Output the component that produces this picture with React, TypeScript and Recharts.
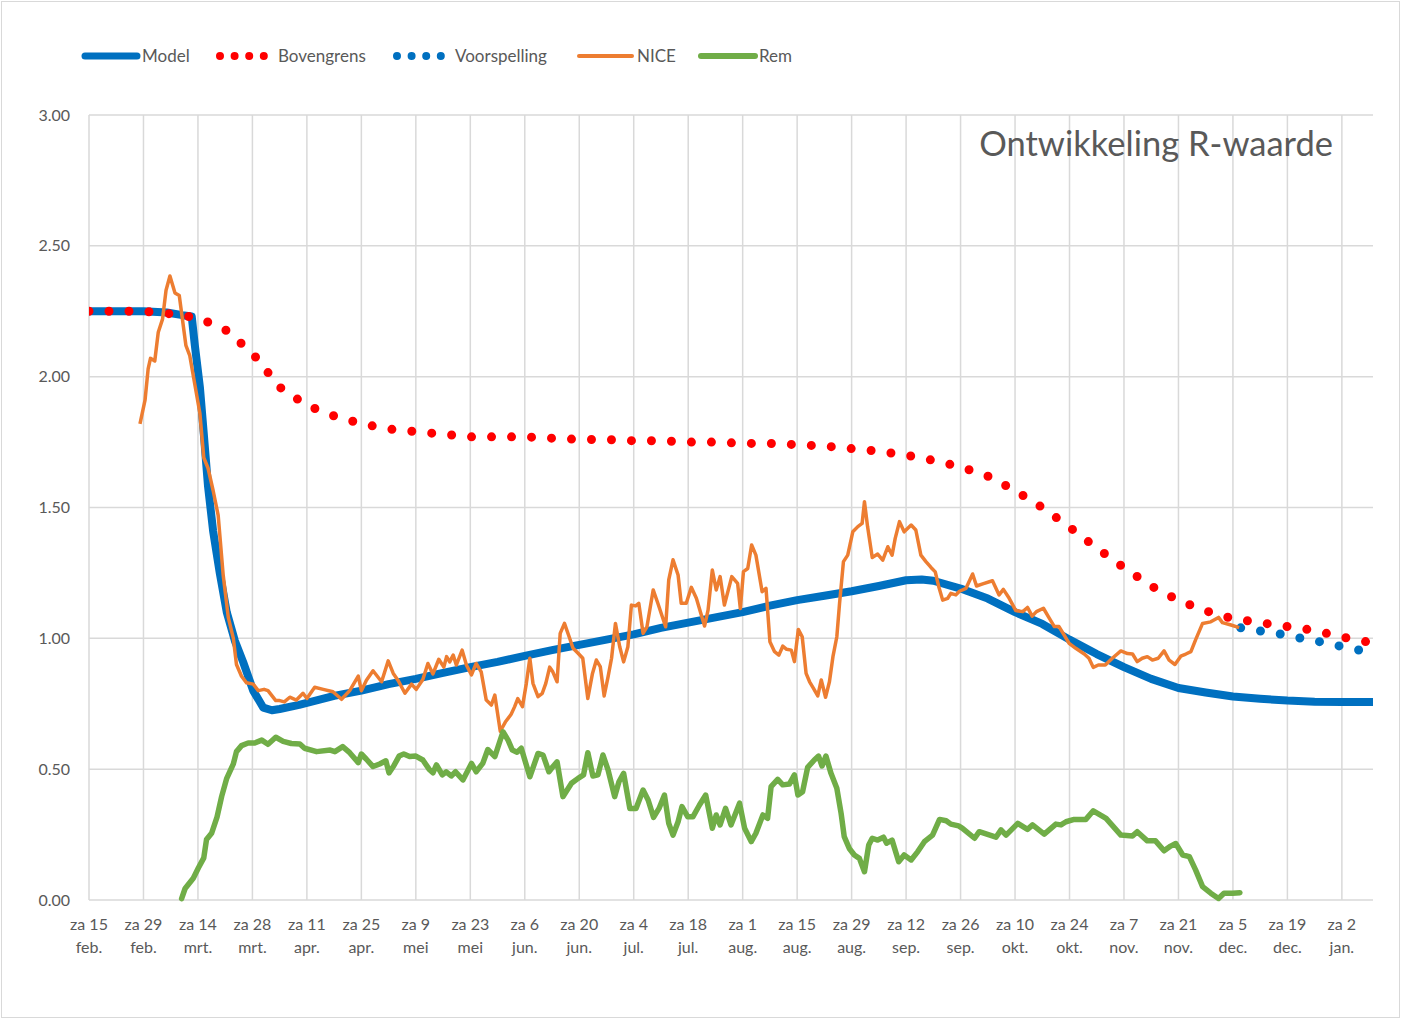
import { LineChart, Line, XAxis, YAxis, CartesianGrid } from 'recharts';

// x = days since za 15 feb. 2020
const tickDays = [0, 14, 28, 42, 56, 70, 84, 98, 112, 126, 140, 154, 168, 182, 196, 210, 224, 238, 252, 266, 280, 294, 308, 322];
const tickDayLabels = ['za 15', 'za 29', 'za 14', 'za 28', 'za 11', 'za 25', 'za 9', 'za 23', 'za 6', 'za 20', 'za 4', 'za 18', 'za 1', 'za 15', 'za 29', 'za 12', 'za 26', 'za 10', 'za 24', 'za 7', 'za 21', 'za 5', 'za 19', 'za 2'];
const tickMonthLabels = ['feb.', 'feb.', 'mrt.', 'mrt.', 'apr.', 'apr.', 'mei', 'mei', 'jun.', 'jun.', 'jul.', 'jul.', 'aug.', 'aug.', 'aug.', 'sep.', 'sep.', 'okt.', 'okt.', 'nov.', 'nov.', 'dec.', 'dec.', 'jan.'];
const yTicks = [0, 0.5, 1, 1.5, 2, 2.5, 3];

const modelDays = [0, 7, 14, 20, 24, 26.4, 27.2, 28.5, 29.4, 30.6, 31.9, 33.6, 35.4, 37.5, 39.6, 42.2, 44.8, 47, 49, 54, 63, 70, 77, 84, 91, 98, 105, 112, 119, 126, 133, 140, 147, 154, 161, 168, 175, 182, 189, 196, 203, 210, 214, 217, 224, 231, 238, 245, 252, 259, 266, 273, 280, 287, 294, 301, 308, 315, 322, 330];
const modelValues = [2.25, 2.25, 2.25, 2.245, 2.235, 2.23, 2.12, 1.96, 1.8, 1.58, 1.41, 1.25, 1.1, 0.99, 0.91, 0.8, 0.735, 0.725, 0.73, 0.746, 0.78, 0.8, 0.825, 0.845, 0.868, 0.89, 0.91, 0.933, 0.955, 0.975, 0.995, 1.015, 1.04, 1.06, 1.08, 1.1, 1.125, 1.146, 1.163, 1.18, 1.2, 1.222, 1.225, 1.22, 1.19, 1.152, 1.1, 1.055, 0.995, 0.94, 0.89, 0.845, 0.81, 0.793, 0.778, 0.769, 0.762, 0.758, 0.757, 0.757];

const boundDays = [0, 7, 14, 21, 28, 35, 42, 49, 56, 63, 70, 77, 84, 91, 98, 105, 112, 119, 126, 133, 140, 147, 154, 161, 168, 175, 182, 189, 196, 203, 210, 217, 224, 231, 238, 245, 252, 259, 266, 273, 280, 287, 294, 301, 308, 315, 322, 329];
const boundValues = [2.25, 2.25, 2.25, 2.24, 2.225, 2.18, 2.09, 1.96, 1.89, 1.85, 1.82, 1.8, 1.79, 1.78, 1.77, 1.77, 1.77, 1.765, 1.76, 1.76, 1.755, 1.755, 1.75, 1.75, 1.745, 1.745, 1.74, 1.735, 1.725, 1.715, 1.7, 1.68, 1.655, 1.62, 1.565, 1.5, 1.425, 1.345, 1.27, 1.2, 1.145, 1.105, 1.075, 1.06, 1.045, 1.03, 1.005, 0.985];

const forecastDays = [296, 301, 306, 311, 316, 321, 326, 329];
const forecastValues = [1.04, 1.028, 1.017, 1.002, 0.988, 0.972, 0.956, 0.95];

const niceDays = [13.1, 14.4, 15.2, 15.8, 16.9, 17.8, 18.9, 19.8, 20.8, 22.1, 23.2, 24.9, 25.9, 27.2, 28.5, 29.5, 30.6, 31.9, 33.2, 34.5, 35.8, 37.1, 37.9, 39.2, 40.5, 42.2, 43.5, 45, 46, 48, 49, 50.2, 51.6, 53.3, 55, 56, 58, 60.2, 62.7, 64.9, 67, 69.2, 70, 71.3, 73, 75.2, 76.9, 78.2, 79.4, 81.2, 82.9, 84.1, 85.8, 87.1, 88.4, 89.9, 91.2, 91.9, 92.7, 93.6, 94.4, 95.9, 97, 98.3, 99.5, 100.8, 102.1, 103.4, 104.3, 105.7, 107, 108.5, 109.4, 110.2, 111.4, 112.4, 113.3, 114.1, 115.4, 116.5, 117.4, 118.4, 119.2, 120.3, 121.1, 122.2, 123.4, 124.4, 125.7, 126.9, 128.2, 129.4, 130.4, 131.4, 132.4, 133.4, 134.3, 135.3, 136.4, 137.4, 138.5, 139.4, 140.5, 141.3, 142.4, 143.4, 145, 146.2, 148.2, 149, 150.1, 151.4, 152.2, 153.5, 154.8, 156.1, 158.2, 159.1, 160.2, 161.2, 162.2, 163.3, 165.2, 166.7, 167.4, 168.2, 169.3, 170.3, 171.4, 173, 174, 175, 176.2, 177.3, 178.3, 179.3, 180.5, 181.3, 182.3, 183.3, 184.3, 185.2, 186.2, 187.3, 188.2, 189.3, 190.3, 191.2, 192.2, 192.9, 193.9, 195, 196.3, 197.6, 198.7, 199.3, 200.1, 201.3, 202.7, 204, 205.3, 206.4, 207.2, 208.3, 209.5, 211.3, 212.5, 213.8, 215.1, 216.4, 217.5, 218.4, 219.4, 220.7, 221.5, 222.8, 223.7, 225.4, 227.1, 228.1, 229.7, 232.2, 233.9, 235, 236.5, 238.2, 240, 241.2, 242.4, 243.5, 245.3, 246.6, 248.1, 249.3, 250.6, 251.9, 253.6, 255.8, 257, 258.1, 259.4, 261.2, 263, 265.2, 266.9, 268.2, 269.4, 270.7, 272, 273.3, 274.8, 276.3, 277.6, 279.1, 280.6, 281.9, 283.2, 284.4, 286.2, 288.3, 290.3, 291.3, 293.5, 295.6];
const niceValues = [1.82, 1.91, 2.03, 2.07, 2.06, 2.17, 2.22, 2.33, 2.385, 2.32, 2.31, 2.12, 2.08, 1.97, 1.86, 1.69, 1.65, 1.565, 1.47, 1.24, 1.08, 1.0, 0.9, 0.855, 0.83, 0.825, 0.8, 0.805, 0.8, 0.762, 0.762, 0.757, 0.775, 0.764, 0.79, 0.77, 0.813, 0.805, 0.796, 0.767, 0.8, 0.856, 0.8, 0.84, 0.876, 0.834, 0.914, 0.866, 0.84, 0.79, 0.825, 0.805, 0.843, 0.904, 0.864, 0.92, 0.89, 0.93, 0.91, 0.936, 0.898, 0.955, 0.898, 0.86, 0.904, 0.872, 0.764, 0.745, 0.783, 0.645, 0.68, 0.71, 0.739, 0.77, 0.739, 0.828, 0.924, 0.828, 0.777, 0.79, 0.828, 0.89, 0.872, 0.834, 1.019, 1.057, 1.006, 0.962, 0.943, 0.924, 0.77, 0.866, 0.917, 0.892, 0.78, 0.853, 0.924, 1.057, 0.968, 0.91, 0.968, 1.127, 1.124, 1.134, 1.019, 1.044, 1.185, 1.134, 1.044, 1.223, 1.3, 1.242, 1.134, 1.134, 1.195, 1.153, 1.047, 1.108, 1.261, 1.185, 1.236, 1.127, 1.236, 1.21, 1.114, 1.255, 1.267, 1.357, 1.318, 1.178, 1.191, 0.987, 0.949, 0.936, 0.97, 0.958, 0.955, 0.911, 1.034, 1.006, 0.866, 0.834, 0.809, 0.78, 0.841, 0.775, 0.834, 0.93, 1.006, 1.134, 1.293, 1.318, 1.407, 1.427, 1.439, 1.522, 1.427, 1.309, 1.322, 1.299, 1.35, 1.318, 1.382, 1.446, 1.407, 1.433, 1.414, 1.318, 1.293, 1.271, 1.254, 1.197, 1.146, 1.153, 1.172, 1.166, 1.18, 1.191, 1.246, 1.2, 1.208, 1.22, 1.166, 1.187, 1.153, 1.106, 1.102, 1.118, 1.085, 1.102, 1.115, 1.082, 1.045, 1.045, 1.013, 0.981, 0.962, 0.94, 0.924, 0.889, 0.898, 0.898, 0.924, 0.952, 0.942, 0.94, 0.911, 0.924, 0.93, 0.917, 0.924, 0.952, 0.917, 0.9, 0.932, 0.94, 0.949, 0.994, 1.057, 1.063, 1.08, 1.06, 1.051, 1.041];

const remDays = [23.8, 24.7, 26.8, 28.1, 29.5, 30.2, 31.5, 32.9, 34.1, 35.4, 37.1, 37.9, 39.2, 40.9, 42.6, 44.4, 46, 48, 49.9, 52, 54.2, 55.4, 58.5, 62, 63.2, 65.2, 67, 69.2, 70, 71.3, 73, 74.7, 76.3, 77.1, 78.3, 79.7, 80.9, 82.4, 84, 85.8, 87.4, 88.4, 89.3, 90.8, 91.8, 93.1, 94.2, 96.1, 98.3, 99.5, 101.2, 102.5, 104.3, 106.4, 107.7, 108.8, 110, 111.1, 113.3, 115.4, 116.7, 118.2, 119.2, 120.3, 121.8, 124, 125.7, 127.1, 128.2, 129.5, 130.8, 132.1, 133.4, 135.1, 136.2, 137.4, 139, 140.6, 142.4, 143.7, 145.1, 146.5, 147.9, 149, 150.1, 151.4, 152.4, 153.9, 155.2, 156.9, 158.5, 160.2, 161.2, 162.2, 163.6, 165, 167.2, 168.5, 170.2, 171.4, 173.2, 174.4, 175.3, 177, 178.3, 180, 181.3, 182.2, 183.4, 184.7, 186.4, 187.5, 188.4, 189.4, 190.7, 192.2, 193.3, 194.1, 195.4, 196.7, 198, 199.3, 200.4, 201.3, 202.7, 204.2, 205, 206.4, 208.1, 209.5, 211.3, 213, 214.7, 216.8, 218.6, 220.3, 221.5, 223.5, 224.5, 227.6, 228.8, 233.1, 234.4, 235.7, 238.7, 241.2, 242.5, 245.5, 248.5, 249.8, 251.1, 253.2, 256.2, 258.1, 261.4, 265.2, 268.2, 269.4, 272, 274.1, 276.3, 278, 279.3, 281.1, 282.8, 284.4, 286.2, 288.3, 290.3, 291.7, 293.9, 295.8];
const remValues = [0.005, 0.044, 0.083, 0.122, 0.161, 0.231, 0.255, 0.317, 0.396, 0.465, 0.52, 0.567, 0.59, 0.6, 0.6, 0.611, 0.595, 0.622, 0.606, 0.598, 0.596, 0.58, 0.567, 0.573, 0.567, 0.586, 0.563, 0.525, 0.558, 0.538, 0.51, 0.52, 0.532, 0.486, 0.512, 0.55, 0.558, 0.548, 0.55, 0.535, 0.5, 0.486, 0.516, 0.478, 0.49, 0.474, 0.49, 0.459, 0.522, 0.49, 0.522, 0.575, 0.548, 0.643, 0.611, 0.573, 0.565, 0.58, 0.471, 0.56, 0.554, 0.49, 0.509, 0.528, 0.395, 0.446, 0.465, 0.478, 0.563, 0.474, 0.478, 0.554, 0.497, 0.395, 0.452, 0.484, 0.35, 0.35, 0.42, 0.382, 0.316, 0.35, 0.401, 0.293, 0.248, 0.299, 0.357, 0.318, 0.318, 0.363, 0.401, 0.274, 0.325, 0.287, 0.35, 0.287, 0.37, 0.274, 0.223, 0.255, 0.325, 0.312, 0.433, 0.461, 0.44, 0.443, 0.478, 0.401, 0.414, 0.507, 0.535, 0.55, 0.512, 0.55, 0.484, 0.427, 0.331, 0.242, 0.197, 0.172, 0.159, 0.108, 0.21, 0.236, 0.229, 0.24, 0.217, 0.229, 0.146, 0.172, 0.153, 0.185, 0.223, 0.248, 0.308, 0.303, 0.29, 0.283, 0.274, 0.236, 0.261, 0.24, 0.268, 0.248, 0.293, 0.27, 0.287, 0.252, 0.29, 0.287, 0.299, 0.308, 0.308, 0.341, 0.312, 0.248, 0.245, 0.261, 0.226, 0.226, 0.188, 0.206, 0.216, 0.172, 0.166, 0.115, 0.051, 0.026, 0.006, 0.026, 0.026, 0.028];

const toPoints = (days: number[], values: number[]) => days.map((day, i) => ({ day, v: values[i] }));

const textColor = '#595959';
const font = 'Lato, "Open Sans", sans-serif';

function DateTick(props: any) {
  const { x, y, payload } = props;
  const i = tickDays.indexOf(payload.value);
  return (
    <text x={x} y={y} textAnchor="middle" fill={textColor} fontSize={16} fontFamily={font}>
      <tspan x={x} dy={22}>{tickDayLabels[i]}</tspan>
      <tspan x={x} dy={23}>{tickMonthLabels[i]}</tspan>
    </text>
  );
}

function ValueTick(props: any) {
  const { x, y, payload } = props;
  return (
    <text x={x} y={y} dy="0.35em" textAnchor="end" fill={textColor} fontSize={16} fontFamily={font}>
      {payload.value.toFixed(2)}
    </text>
  );
}

function LegendRow() {
  const ty = 56;
  return (
    <svg width={1402} height={80} style={{ position: 'absolute', left: 0, top: 0 }}>
      <g fontFamily={font} fontSize={17} fill={textColor}>
        <line x1={85} x2={137} y1={ty} y2={ty} stroke="#0070C0" strokeWidth={7} strokeLinecap="round" />
        <text x={142} y={ty} dy="0.35em">Model</text>
        <line x1={220} x2={264} y1={ty} y2={ty} stroke="#FF0000" strokeWidth={8} strokeLinecap="round" strokeDasharray="0 14.6" />
        <text x={278} y={ty} dy="0.35em">Bovengrens</text>
        <line x1={397} x2={441} y1={ty} y2={ty} stroke="#0070C0" strokeWidth={8} strokeLinecap="round" strokeDasharray="0 14.6" />
        <text x={455} y={ty} dy="0.35em">Voorspelling</text>
        <line x1={579} x2={632} y1={ty} y2={ty} stroke="#ED7D31" strokeWidth={4} strokeLinecap="round" />
        <text x={637} y={ty} dy="0.35em">NICE</text>
        <line x1={701} x2={755} y1={ty} y2={ty} stroke="#70AD47" strokeWidth={6} strokeLinecap="round" />
        <text x={759} y={ty} dy="0.35em">Rem</text>
      </g>
    </svg>
  );
}

export default function App() {
  return (
    <div style={{ position: 'absolute', left: 0, top: 0, width: 1402, height: 1020, background: '#fff' }}>
      <div style={{ position: 'absolute', left: 1, top: 1, width: 1399, height: 1017, border: '1px solid #d9d9d9', boxSizing: 'border-box' }} />
      <LineChart width={1402} height={1020} margin={{ top: 115, right: 29, bottom: 0, left: 29 }}>
        <CartesianGrid stroke="#d9d9d9" strokeWidth={1.5} verticalValues={tickDays} horizontalValues={yTicks} />
        <XAxis
          type="number"
          dataKey="day"
          domain={[0, 330]}
          ticks={tickDays}
          interval={0}
          height={120}
          axisLine={false}
          tickLine={false}
          tick={(p: any) => <DateTick {...p} />}
          allowDataOverflow
        />
        <YAxis
          type="number"
          domain={[0, 3]}
          ticks={yTicks}
          width={60}
          axisLine={false}
          tickLine={false}
          tickMargin={13}
          tick={(p: any) => <ValueTick {...p} />}
        />
        <Line data={toPoints(modelDays, modelValues)} dataKey="v" type="linear" stroke="#0070C0" strokeWidth={8} strokeLinejoin="round" dot={false} activeDot={false} isAnimationActive={false} />
        <Line data={toPoints(boundDays, boundValues)} dataKey="v" type="linear" stroke="#FF0000" strokeWidth={9} strokeLinecap="round" strokeDasharray="0 20" dot={false} activeDot={false} isAnimationActive={false} />
        <Line data={toPoints(forecastDays, forecastValues)} dataKey="v" type="linear" stroke="#0070C0" strokeWidth={9} strokeLinecap="round" strokeDasharray="0 20" dot={false} activeDot={false} isAnimationActive={false} />
        <Line data={toPoints(niceDays, niceValues)} dataKey="v" type="linear" stroke="#ED7D31" strokeWidth={3.5} strokeLinejoin="round" dot={false} activeDot={false} isAnimationActive={false} />
        <Line data={toPoints(remDays, remValues)} dataKey="v" type="linear" stroke="#70AD47" strokeWidth={5.5} strokeLinejoin="round" strokeLinecap="round" dot={false} activeDot={false} isAnimationActive={false} />
      </LineChart>
      <LegendRow />
      <div style={{ position: 'absolute', left: 0, top: 120, width: 1333, textAlign: 'right', fontFamily: font, fontSize: 34.5, lineHeight: '46px', color: textColor }}>
        Ontwikkeling R-waarde
      </div>
    </div>
  );
}
